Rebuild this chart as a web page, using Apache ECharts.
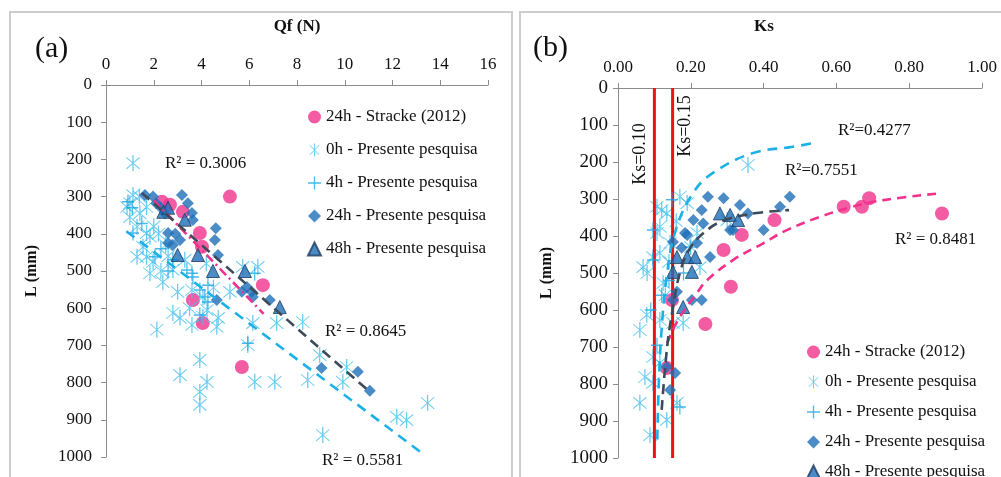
<!DOCTYPE html>
<html>
<head>
<meta charset="utf-8">
<script src="https://cdn.jsdelivr.net/npm/echarts@6/dist/echarts.min.js"></script>
<style>
  html, body { margin: 0; padding: 0; background: #fff; }
  #chart { width: 1001px; height: 477px; }
</style>
</head>
<body>
<div id="chart"></div>
<script>
// ---- series names (shared by both panels) ----
const seriesNames = [
  '24h - Stracke (2012)',
  '0h - Presente pesquisa',
  '4h - Presente pesquisa',
  '24h - Presente pesquisa',
  '48h - Presente pesquisa'
];

// ---- axis ranges ----
const qfAxis = { min: 0, max: 16, interval: 2 };
const ksAxis = { min: 0, max: 1, interval: 0.2 };
const lAxis  = { min: 0, max: 1000, interval: 100 };

// ---- panel (a): Qf (N) vs L (mm) ----
const qfStracke = [[5.19,300],[2.34,314],[2.68,322],[3.22,341],[3.93,398],[4.02,435],[6.57,538],[3.64,578],[4.05,640],[5.69,758]];
const qf0h = [[1.13,210],[1.13,296],[0.88,328],[1.0,318],[1.42,345],[1.7,328],[1.3,381],[1.7,398],[1.0,355],[1.84,408],
  [1.55,435],[1.7,462],[1.97,475],[1.84,506],[1.3,462],[2.38,530],[2.8,497],[3.0,556],[3.6,551],[4.06,570],
  [2.8,613],[3.1,626],[2.13,658],[3.6,645],[4.06,623],[4.23,605],[4.64,650],[4.7,626],[5.19,556],[5.73,489],
  [6.36,489],[6.15,640],[5.94,699],[7.15,640],[8.24,637],[3.93,739],[3.1,780],[4.23,798],[3.93,825],[3.93,860],
  [6.23,798],[7.07,798],[8.45,793],[8.95,726],[9.92,798],[10.08,758],[9.08,941],[12.18,892],[12.59,901],[13.47,855],
  [2.2,400],[2.5,430],[2.0,380],[2.6,460],[3.3,470],[4.2,480],[2.3,500],[3.5,600],[4.5,545],[1.4,300]];
const qf4h = [[0.92,314],[1.1,330],[1.13,398],[1.5,372],[2.05,462],[2.3,440],[2.8,470],[3.39,497],[3.6,506],[3.64,516],
  [4.27,538],[3.93,551],[4.14,570],[4.27,583],[3.93,618],[5.94,694],[6.23,506],[2.6,500]];
const qf24h = [[1.63,296],[1.97,300],[2.1,318],[2.3,330],[2.47,345],[3.18,296],[3.43,318],[3.6,344],[3.64,363],[4.6,385],
  [4.56,417],[4.69,457],[2.6,398],[2.8,430],[3.1,417],[2.6,425],[2.9,400],[4.64,578],[5.69,556],[5.9,543],
  [6.1,556],[6.15,570],[6.86,578],[9.03,761],[10.55,771],[11.05,822]];
const qf48h = [[2.4,341],[2.6,330],[3.3,362],[3.0,457],[3.85,457],[4.48,500],[5.82,500],[7.28,597]];

// trend lines, panel (a)
const qfTrendStracke = [[2.0,310],[6.6,615]];
const qfTrend24h = [[1.5,290],[11.05,825]];
const qfTrend0h = [[0.85,393],[13.35,995]];

// ---- panel (b): Ks vs L (mm) ----
const ksStracke = [[0.69,298],[0.62,321],[0.67,321],[0.89,339],[0.43,357],[0.34,397],[0.29,438],[0.31,537],[0.148,573],[0.24,638],[0.134,757]];
const ks0h = [[0.06,851],[0.088,938],[0.074,781],[0.096,797],[0.134,897],[0.162,851],[0.06,654],[0.079,613],[0.115,627],[0.151,635],
  [0.179,635],[0.069,484],[0.096,457],[0.115,446],[0.124,527],[0.107,392],[0.225,484],[0.143,419],[0.096,727],[0.115,743],
  [0.107,321],[0.134,339],[0.17,294],[0.19,311],[0.357,208],[0.30,357],[0.115,375],[0.217,392],[0.08,500],[0.13,560],
  [0.12,330],[0.16,360],[0.2,430],[0.14,470]];
const ks4h = [[0.096,465],[0.107,695],[0.17,862],[0.198,430],[0.096,384],[0.148,302],[0.12,560],[0.14,520],[0.09,600],[0.18,500]];
const ks24h = [[0.247,294],[0.23,330],[0.207,357],[0.234,366],[0.29,298],[0.335,316],[0.357,339],[0.316,384],[0.308,384],[0.40,384],
  [0.445,321],[0.472,294],[0.184,392],[0.253,457],[0.217,419],[0.19,397],[0.151,416],[0.175,432],[0.162,551],[0.151,573],
  [0.203,573],[0.23,573],[0.134,754],[0.157,770],[0.143,816]];
const ks48h = [[0.28,339],[0.308,343],[0.33,357],[0.162,457],[0.19,457],[0.212,457],[0.151,497],[0.203,497],[0.179,592]];

// trend curves, panel (b)
const ksTrend0h = [[0.108,950],[0.112,800],[0.12,650],[0.135,500],[0.16,380],[0.206,284],[0.26,230],[0.37,176],[0.48,159],[0.536,149]];
const ksTrend24h = [[0.12,870],[0.135,700],[0.15,600],[0.17,500],[0.2,430],[0.25,380],[0.3,355],[0.38,338],[0.47,330]];
const ksTrendStracke = [[0.135,690],[0.165,627],[0.217,554],[0.245,519],[0.316,465],[0.40,419],[0.464,384],[0.55,350],[0.64,322],[0.73,303],[0.89,284]];

// reference limits Ks = 0.10 and Ks = 0.15
const ksLimits = [0.10, 0.15];

// ---- styling ----
const SERIF = "'Liberation Serif', 'Times New Roman', serif";
const ASTERISK = 'path://M46.5 0L53.5 0L53.5 100L46.5 100Z M12 16L16 12L88 84L84 88Z M84 12L88 16L16 88L12 84Z';
const PLUS = 'path://M45 0L55 0L55 100L45 100Z M0 45L100 45L100 55L0 55Z';

const markerStyles = [
  { symbol: 'circle', symbolSize: 14, itemStyle: { color: '#F0328C' } },
  { symbol: ASTERISK, symbolSize: [14, 16], itemStyle: { color: '#45BFEF' } },
  { symbol: PLUS, symbolSize: [12, 15], itemStyle: { color: '#1AA6E6' } },
  { symbol: 'diamond', symbolSize: 12, itemStyle: { color: '#1F6FB8' } },
  { symbol: 'triangle', symbolSize: 13, itemStyle: { color: '#1F6FB8', borderColor: '#1F3B60', borderWidth: 1 } }
];

function scatter(idx, data, axisIndex) {
  const s = markerStyles[idx];
  return {
    type: 'scatter', name: seriesNames[idx], data: data,
    xAxisIndex: axisIndex, yAxisIndex: axisIndex,
    symbol: s.symbol, symbolSize: s.symbolSize, itemStyle: s.itemStyle,
    emphasis: { disabled: true }, z: 2 + idx
  };
}

function trend(data, axisIndex, color, dash, smooth) {
  return {
    type: 'line', data: data, xAxisIndex: axisIndex, yAxisIndex: axisIndex,
    symbol: 'none', smooth: smooth ? 0.4 : false, silent: true, z: 10,
    lineStyle: { color: color, width: 2.6, type: dash }
  };
}

function xAxisCfg(gridIndex, range, fmt) {
  return {
    type: 'value', gridIndex: gridIndex, position: 'top',
    min: range.min, max: range.max, interval: range.interval,
    axisLine: { show: true, onZero: false, lineStyle: { color: '#8C8C8C', width: 1 } },
    axisTick: { show: true, inside: false, length: 5, lineStyle: { color: '#8C8C8C' } },
    splitLine: { show: false },
    axisLabel: { fontFamily: SERIF, fontSize: 17, color: '#111', margin: 12, formatter: fmt }
  };
}

function yAxisCfg(gridIndex, fontSize, margin, nameGap) {
  return {
    type: 'value', gridIndex: gridIndex, inverse: true,
    min: lAxis.min, max: lAxis.max, interval: lAxis.interval,
    name: 'L (mm)', nameLocation: 'middle', nameRotate: 90, nameGap: nameGap,
    nameTextStyle: { fontFamily: SERIF, fontSize: 16, fontWeight: 'bold', color: '#111' },
    axisLine: { show: true, onZero: false, lineStyle: { color: '#8C8C8C', width: 1 } },
    axisTick: { show: true, inside: false, length: 5, lineStyle: { color: '#8C8C8C' } },
    splitLine: { show: false },
    axisLabel: { fontFamily: SERIF, fontSize: fontSize, color: '#111', margin: margin, formatter: v => String(v) }
  };
}

function legendCfg(left, top, gap) {
  return {
    orient: 'vertical', left: left, top: top, height: 170, itemGap: gap,
    itemWidth: 13, itemHeight: 13, selectedMode: false,
    data: seriesNames,
    textStyle: { fontFamily: SERIF, fontSize: 17, color: '#111', lineHeight: 20 }
  };
}

function label(text, x, y, size, opts) {
  return Object.assign({
    type: 'text', x: x, y: y, silent: true,
    style: Object.assign({ text: text, font: size + 'px ' + SERIF, fill: '#111', align: 'left', verticalAlign: 'middle' }, (opts && opts.style) || {})
  }, opts && opts.rotation !== undefined ? { rotation: opts.rotation } : {});
}

const chart = echarts.init(document.getElementById('chart'), null, { renderer: 'canvas' });

const option = {
  animation: false,
  backgroundColor: '#fff',
  grid: [
    { left: 106, top: 85, width: 382, height: 372 },
    { left: 618, top: 88, width: 364, height: 370 }
  ],
  xAxis: [
    Object.assign(xAxisCfg(0, qfAxis, v => String(v)), {
      name: 'Qf (N)', nameLocation: 'middle', nameGap: 50,
      nameTextStyle: { fontFamily: SERIF, fontSize: 17, fontWeight: 'bold', color: '#111' }
    }),
    xAxisCfg(1, ksAxis, v => v.toFixed(2))
  ],
  yAxis: [
    yAxisCfg(0, 17, 14, 66),
    yAxisCfg(1, 19, 10, 63)
  ],
  legend: [
    legendCfg(302, 102, 13),
    legendCfg(801, 337, 10)
  ],
  graphic: [
    // panel frames
    { type: 'rect', shape: { x: 10, y: 12, width: 502, height: 480 }, style: { fill: 'none', stroke: '#CDCDCD', lineWidth: 2 }, silent: true },
    { type: 'rect', shape: { x: 520, y: 12, width: 500, height: 480 }, style: { fill: 'none', stroke: '#CDCDCD', lineWidth: 2 }, silent: true },
    // panel tags
    label('(a)', 35, 49, 30),
    label('(b)', 533, 48, 30),
    // Ks axis title
    { type: 'text', x: 764, y: 27, silent: true, style: { text: 'Ks', font: 'bold 17px ' + SERIF, fill: '#111', align: 'center', verticalAlign: 'middle' } },
    // coefficients of determination
    label('R\u00B2 = 0.3006', 165, 164, 17),
    label('R\u00B2 = 0.8645', 325, 332, 17),
    label('R\u00B2 = 0.5581', 322, 461, 17),
    label('R\u00B2=0.4277', 838, 131, 17),
    label('R\u00B2=0.7551', 785, 171, 17),
    label('R\u00B2 = 0.8481', 895, 240, 17),
    // limit labels
    label('Ks=0.10', 640, 154, 18, { rotation: Math.PI / 2, style: { align: 'center' } }),
    label('Ks=0.15', 685, 126, 18, { rotation: Math.PI / 2, style: { align: 'center' } })
  ],
  series: [
    scatter(0, qfStracke, 0),
    scatter(1, qf0h, 0),
    scatter(2, qf4h, 0),
    scatter(3, qf24h, 0),
    scatter(4, qf48h, 0),
    trend(qfTrendStracke, 0, '#F0328C', [9, 4, 2, 4], false),
    trend(qfTrend24h, 0, '#3F4A59', [10, 6], false),
    trend(qfTrend0h, 0, '#1BB0E6', [10, 7], false),

    { type: 'line', xAxisIndex: 1, yAxisIndex: 1, data: [[ksLimits[0], 0], [ksLimits[0], 1000]], symbol: 'none', silent: true, z: 3.5,
      lineStyle: { color: '#E8141A', width: 3 } },
    { type: 'line', xAxisIndex: 1, yAxisIndex: 1, data: [[ksLimits[1], 0], [ksLimits[1], 1000]], symbol: 'none', silent: true, z: 3.5,
      lineStyle: { color: '#E8141A', width: 3 } },

    scatter(0, ksStracke, 1),
    scatter(1, ks0h, 1),
    scatter(2, ks4h, 1),
    scatter(3, ks24h, 1),
    scatter(4, ks48h, 1),
    trend(ksTrendStracke, 1, '#F0328C', [9, 6], true),
    trend(ksTrend24h, 1, '#3F4A59', [10, 6], true),
    trend(ksTrend0h, 1, '#1BB0E6', [10, 7], true)
  ]
};

chart.setOption(option);
</script>
</body>
</html>
